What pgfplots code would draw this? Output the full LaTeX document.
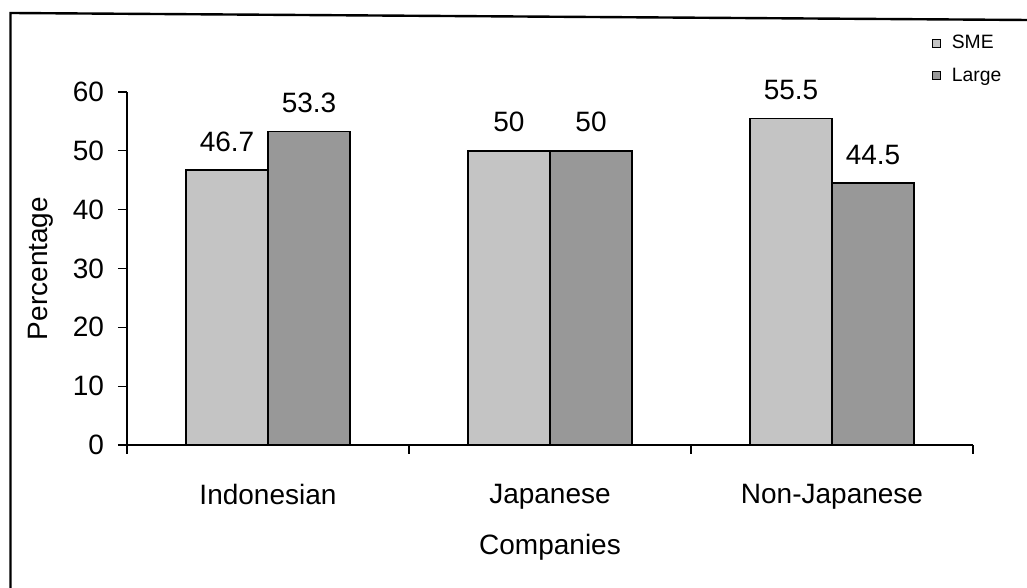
\documentclass[border=0pt]{standalone}
\usepackage{fontspec}
\setmainfont{Liberation Sans}
\usepackage{pgfplots}
\pgfplotsset{compat=1.18}
\definecolor{smecol}{RGB}{196,196,196}
\definecolor{largecol}{RGB}{152,152,152}
\begin{document}
\begin{tikzpicture}[x=0.75pt,y=0.75pt]
\path[use as bounding box] (0,0) rectangle (1027,588);
% outer frame (left and top edges visible)
\draw[line width=1.8pt] (10.5,0) -- (10.5,575) -- (1027,568);
\begin{axis}[
  at={(95.25pt,107.25pt)}, anchor=south west,
  scale only axis, width=634.5pt, height=264.75pt,
  xmin=-0.5, xmax=2.5, ymin=0, ymax=60,
  axis x line*=bottom, axis y line*=left,
  axis line style={line width=0.8pt},
  ybar=0pt, bar width=61.5pt,
  /pgf/number format/assume math mode=true,
  tick align=outside,
  ytick={0,10,...,60},
  major tick length=6.75pt,
  tick style={line width=0.8pt, black},
  xtick={-0.5,0.5,1.5,2.5}, xticklabels={},
  extra x ticks={0,1,2},
  extra x tick labels={Indonesian,Japanese,Non-Japanese},
  extra x tick style={major tick length=0pt, tick style={draw=none}},
  x tick label style={font=\fontsize{21}{25}\selectfont, yshift=-26pt},
  y tick label style={font=\fontsize{21}{25}\selectfont, xshift=-7pt},
  xlabel={Companies}, ylabel={Percentage},
  every axis x label/.style={at={(axis description cs:0.5,-0.289)}, anchor=center, font=\fontsize{21}{25}\selectfont},
  every axis y label/.style={at={(axis description cs:-0.1025,0.5)}, anchor=center, rotate=90, font=\fontsize{21}{25}\selectfont},
  nodes near coords,
  every node near coord/.append style={font=\fontsize{21}{25}\selectfont, yshift=10pt, black},
  legend style={at={(0.9515,1.165)}, anchor=north west, draw=none, fill=none,
    font=\fontsize{14.5}{16}\selectfont, inner sep=0pt, row sep=11pt,
    nodes={inner sep=1pt}, column sep=7pt},
  legend cell align=left,
]
\addplot[draw=black, line width=1.2pt, fill=smecol,
  legend image code/.code={\draw[fill=smecol, draw=black, line width=0.7pt] (0pt,-3pt) rectangle (6pt,3pt);}]
  coordinates {(0,46.7) (1,50) (2,55.5)};
\addplot[draw=black, line width=1.2pt, fill=largecol,
  legend image code/.code={\draw[fill=largecol, draw=black, line width=0.7pt] (0pt,-3pt) rectangle (6pt,3pt);}]
  coordinates {(0,53.3) (1,50) (2,44.5)};
\legend{SME,Large}
\end{axis}
\end{tikzpicture}
\end{document}
